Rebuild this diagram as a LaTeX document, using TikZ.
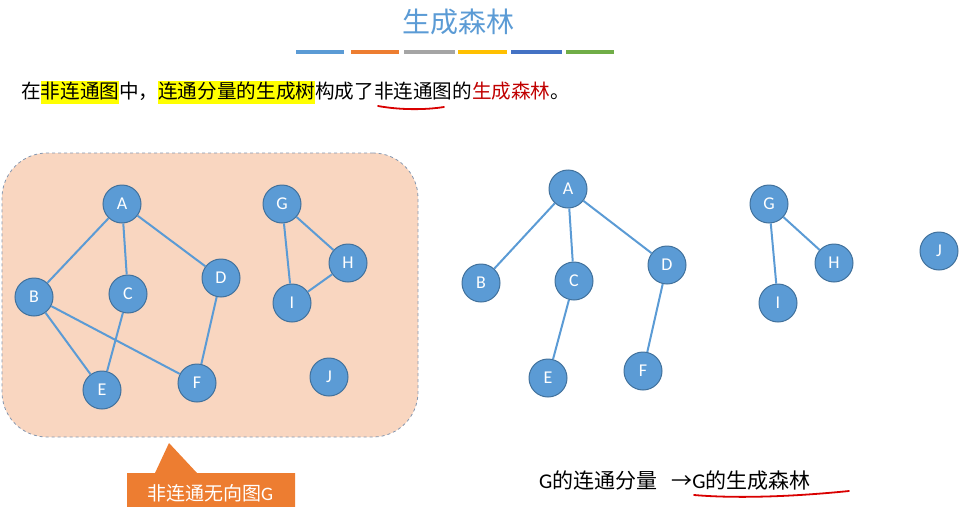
\documentclass[tikz,border=0pt]{standalone}
\usepackage{fontspec}
\usepackage{xcolor}
\setmainfont{Carlito}
\newfontfamily\cjk{Noto Sans CJK SC}
\newfontfamily\lat{Carlito}
\definecolor{nodeblue}{RGB}{91,155,213}
\definecolor{nodeborder}{RGB}{65,113,156}
\definecolor{peach}{RGB}{249,214,192}
\definecolor{boxdash}{RGB}{132,151,176}
\definecolor{callout}{RGB}{237,125,49}
\definecolor{darkred}{RGB}{192,0,0}
\definecolor{hlyellow}{RGB}{255,255,0}
\definecolor{barA}{RGB}{91,155,213}
\definecolor{barB}{RGB}{237,125,49}
\definecolor{barC}{RGB}{165,165,165}
\definecolor{barD}{RGB}{255,192,0}
\definecolor{barE}{RGB}{68,114,196}
\definecolor{barF}{RGB}{112,173,71}
\newcommand{\hlbox}[1]{{\setlength{\fboxsep}{0pt}\colorbox{hlyellow}{\rule[-5pt]{0pt}{23pt}#1}}}
\tikzset{
  vtx/.style={circle, fill=nodeblue, draw=nodeborder, line width=1pt, minimum size=38pt, inner sep=0pt, text=white, font=\lat\fontsize{18}{18}\selectfont},
  edge/.style={draw=nodeblue, line width=2pt},
  bar/.style={line width=4pt},
  redline/.style={draw=red!85!black, line width=1.8pt, line cap=round}
}
\begin{document}
\begin{tikzpicture}[x=1pt,y=-1pt]
\useasboundingbox (0,0) rectangle (966,506);
% title
\node[font=\cjk\fontsize{28}{28}\selectfont, text=nodeblue] (title) at (458,22) {生成森林};
\draw[bar, barA] (296,52) -- (344,52);
\draw[bar, barB] (351,52) -- (399,52);
\draw[bar, barC] (404,52) -- (455,52);
\draw[bar, barD] (458,52) -- (507,52);
\draw[bar, barE] (511,52) -- (562,52);
\draw[bar, barF] (566,52) -- (614,52);
% main text line
\node[anchor=west, inner sep=0pt, font=\cjk\fontsize{19.6}{20}\selectfont] (line) at (21,92)
  {在\hlbox{非连通图}中，\hlbox{连通分量的生成树}构成了非连通图的\textcolor{darkred}{生成森林}。};
\coordinate (u1a) at (378,106);
\coordinate (u1b) at (444,107);
\draw[redline] (u1a) .. controls (400,110) and (425,110) .. (u1b);
% left box
\node[draw=boxdash, dashed, fill=peach, rounded corners=45pt, minimum width=416pt, minimum height=284pt, line width=0.8pt] (gbox) at (210,295) {};
% callout
\coordinate (tip) at (169,443);
\fill[callout] (tip) -- (197,473) -- (295,473) -- (295,520) -- (127,520) -- (127,473) -- (155,473) -- cycle;
\node[font=\cjk\fontsize{19}{19}\selectfont, text=white] (clabel) at (210,493) {非连通无向图\lat G};
% left graph nodes
\node[vtx] (A) at (122,204) {A};
\node[vtx] (B) at (34,297) {B};
\node[vtx] (C) at (128,294) {C};
\node[vtx] (D) at (221,278) {D};
\node[vtx] (E) at (102,390) {E};
\node[vtx] (F) at (197,383) {F};
\node[vtx] (G) at (282,204) {G};
\node[vtx] (H) at (348,263) {H};
\node[vtx] (I) at (292,303) {I};
\node[vtx] (J) at (329,377) {J};
\draw[edge] (A) -- (B);
\draw[edge] (A) -- (C);
\draw[edge] (A) -- (D);
\draw[edge] (B) -- (E);
\draw[edge] (B) -- (F);
\draw[edge] (C) -- (E);
\draw[edge] (D) -- (F);
\draw[edge] (G) -- (I);
\draw[edge] (G) -- (H);
\draw[edge] (H) -- (I);
% right forest
\node[vtx] (A2) at (568,189) {A};
\node[vtx] (B2) at (481,283) {B};
\node[vtx] (C2) at (574,281) {C};
\node[vtx] (D2) at (667,265) {D};
\node[vtx] (E2) at (548,378) {E};
\node[vtx] (F2) at (643,371) {F};
\node[vtx] (G2) at (769,204) {G};
\node[vtx] (H2) at (834,263) {H};
\node[vtx] (I2) at (778,303) {I};
\node[vtx] (J2) at (939,251) {J};
\draw[edge] (A2) -- (B2);
\draw[edge] (A2) -- (C2);
\draw[edge] (A2) -- (D2);
\draw[edge] (C2) -- (E2);
\draw[edge] (D2) -- (F2);
\draw[edge] (G2) -- (I2);
\draw[edge] (G2) -- (H2);
% bottom text
\node[anchor=west, inner sep=0pt, font=\cjk\fontsize{21}{21}\selectfont] (btext) at (539,481)
  {{\lat G}的连通分量\hspace{14pt}→{\lat G}的生成森林};
\coordinate (u2a) at (694,495);
\coordinate (u2b) at (849,491);
\draw[redline] (u2a) .. controls (740,499) and (800,496) .. (u2b);
\end{tikzpicture}
\end{document}
